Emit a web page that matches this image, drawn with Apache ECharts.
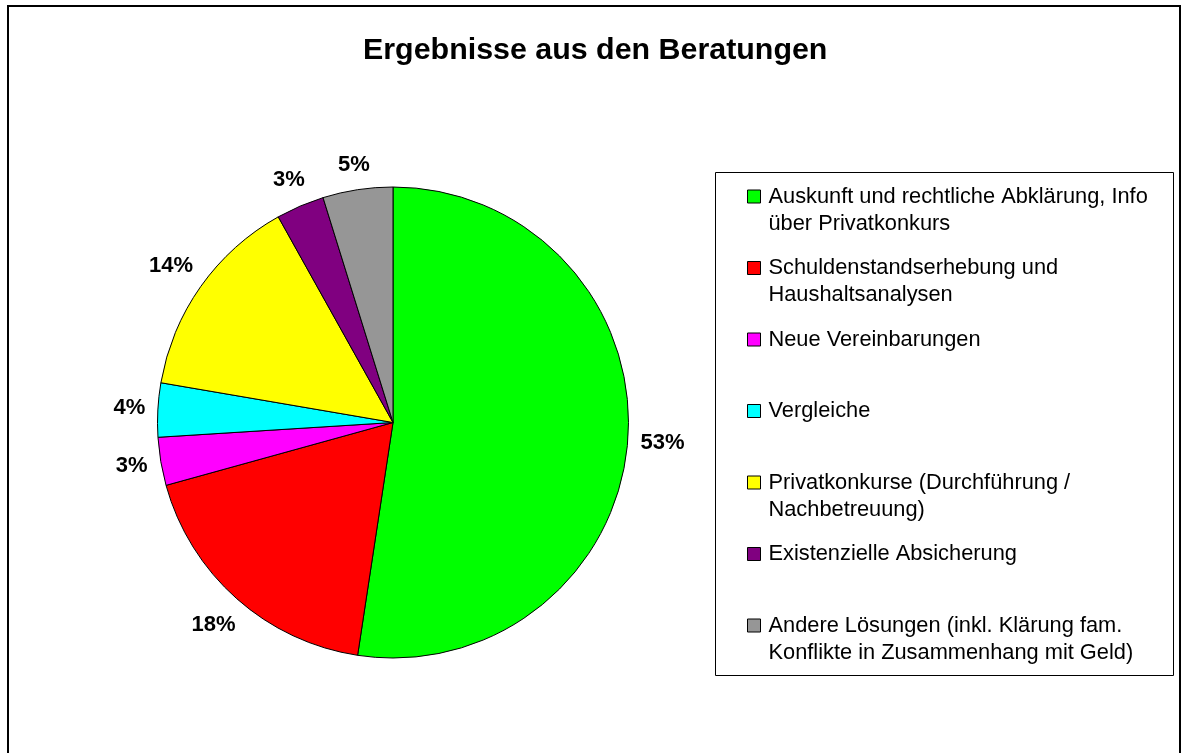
<!DOCTYPE html>
<html>
<head>
<meta charset="utf-8">
<title>Ergebnisse aus den Beratungen</title>
<script src="https://cdn.jsdelivr.net/npm/echarts@6/dist/echarts.min.js"></script>
<style>
  html, body { margin: 0; padding: 0; background: #fff; }
  #chart { width: 1183px; height: 753px; }
</style>
</head>
<body>
<div id="chart"></div>
<script>
// Daten
var categories = [
  'Auskunft und rechtliche Abklärung, Info\nüber Privatkonkurs',
  'Schuldenstandserhebung und\nHaushaltsanalysen',
  'Neue Vereinbarungen',
  'Vergleiche',
  'Privatkonkurse (Durchführung /\nNachbetreuung)',
  'Existenzielle Absicherung',
  'Andere Lösungen (inkl. Klärung fam.\nKonflikte in Zusammenhang mit Geld)'
];
var values = [52.4, 18.3, 3.3, 3.7, 14.2, 3.3, 4.8];
var colors = ['#00ff00', '#ff0000', '#ff00ff', '#00ffff', '#ffff00', '#800080', '#969696'];

var FONT = 'Liberation Sans, Arial, Helvetica, sans-serif';
var cx = 393, cy = 422.5, R = 235.5;

// Mittelwinkel der Segmente (im Uhrzeigersinn ab 12 Uhr)
var total = values.reduce(function (a, b) { return a + b; }, 0);
var midAngles = [];
var acc = 0;
values.forEach(function (v) {
  midAngles.push((acc + v / 2) / total * 2 * Math.PI);
  acc += v;
});

var chart = echarts.init(document.getElementById('chart'), null, { renderer: 'canvas' });

chart.setOption({
  animation: false,
  backgroundColor: '#fff',
  title: {
    text: 'Ergebnisse aus den Beratungen',
    left: 363,
    top: 36,
    padding: 0,
    textStyle: { fontFamily: FONT, fontSize: 30.4, fontWeight: 'bold', color: '#000' }
  },
  graphic: [
    {
      type: 'rect',
      shape: { x: 8, y: 6, width: 1172, height: 770 },
      style: { fill: 'none', stroke: '#000', lineWidth: 2 },
      silent: true
    },
    {
      type: 'rect',
      shape: { x: 715.5, y: 172.5, width: 458, height: 503 },
      style: { fill: 'none', stroke: '#000', lineWidth: 1 },
      silent: true
    }
  ],
  legend: {
    orient: 'vertical',
    left: 747,
    top: 156,
    padding: 0,
    itemGap: -9.5,
    itemWidth: 13,
    itemHeight: 13,
    icon: 'rect',
    selectedMode: false,
    itemStyle: { borderColor: '#000', borderWidth: 1 },
    textStyle: {
      fontFamily: FONT,
      fontSize: 21.8,
      lineHeight: 27,
      color: '#000',
      padding: [0, 0, 0, 3]
    },
    formatter: function (name) {
      return '\n' + name + (name.indexOf('\n') < 0 ? '\n' : '');
    },
    data: categories
  },
  series: [
    {
      type: 'pie',
      center: [cx, cy],
      radius: R,
      startAngle: 90,
      clockwise: true,
      avoidLabelOverlap: false,
      percentPrecision: 0,
      emphasis: { disabled: true },
      itemStyle: { borderColor: '#000', borderWidth: 1 },
      label: {
        show: true,
        position: 'outside',
        formatter: '{d}%',
        fontFamily: FONT,
        fontSize: 22,
        fontWeight: 'bold',
        color: '#000'
      },
      labelLine: { show: false },
      labelLayout: function (params) {
        var a = midAngles[params.dataIndex];
        var ux = Math.sin(a), uy = -Math.cos(a);
        var w = params.labelRect.width / 2, h = params.labelRect.height / 2;
        var d = R + 12 + w * Math.abs(ux) + h * Math.abs(uy);
        return {
          x: cx + d * ux,
          y: cy + d * uy,
          align: 'center',
          verticalAlign: 'middle'
        };
      },
      data: categories.map(function (c, i) {
        return { name: c, value: values[i], itemStyle: { color: colors[i] } };
      })
    }
  ]
});
</script>
</body>
</html>
